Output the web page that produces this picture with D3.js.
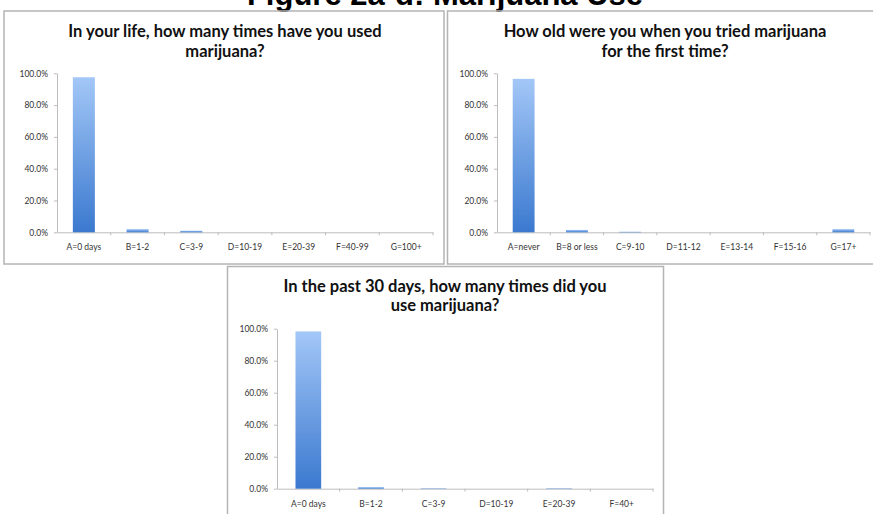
<!DOCTYPE html>
<html>
<head>
<meta charset="utf-8">
<script src="https://cdn.jsdelivr.net/npm/d3@7"></script>
<style>
  body { margin: 0; background: #fff; }
  svg { display: block; }
</style>
</head>
<body>
<script>
'use strict';

// figure title (top is cut off in the original)
let figTitle = "Figure 2a-d: Marijuana Use";

// panel 1: lifetime use
let lifeTitle = ["In your life, how many times have you used", "marijuana?"];
let lifeCats = ["A=0 days", "B=1-2", "C=3-9", "D=10-19", "E=20-39", "F=40-99", "G=100+"];
let lifeValues = [0.975, 0.02, 0.01, 0, 0, 0, 0];

// panel 2: age at first use
let ageTitle = ["How old were you when you tried marijuana", "for the first time?"];
let ageCats = ["A=never", "B=8 or less", "C=9-10", "D=11-12", "E=13-14", "F=15-16", "G=17+"];
let ageValues = [0.965, 0.015, 0.004, 0, 0, 0, 0.02];

// panel 3: past 30 days
let monthTitle = ["In the past 30 days, how many times did you", "use marijuana?"];
let monthCats = ["A=0 days", "B=1-2", "C=3-9", "D=10-19", "E=20-39", "F=40+"];
let monthValues = [0.983, 0.01, 0.003, 0, 0.003, 0];

let yTicks = [0, 0.2, 0.4, 0.6, 0.8, 1];

let width = 873, height = 514;

let svg = d3.select("body").append("svg")
  .attr("width", width)
  .attr("height", height);

// bar gradient, light on top, darker at the base
let grad = svg.append("defs").append("linearGradient")
  .attr("id", "barGrad")
  .attr("x1", 0).attr("y1", 0).attr("x2", 0).attr("y2", 1);
grad.append("stop").attr("offset", "0%").attr("stop-color", "#a3c7f7");
grad.append("stop").attr("offset", "100%").attr("stop-color", "#3b79cf");

// big title, mostly clipped at the top
svg.append("text")
  .attr("x", 445)
  .attr("y", 5)
  .attr("text-anchor", "middle")
  .style("font-family", "'Liberation Sans', Arial, sans-serif")
  .style("font-weight", "bold")
  .style("font-size", "31px")
  .text(figTitle);

// panel frames
let frames = [
  { x: 4, y: 11, w: 440, h: 253 },
  { x: 447.5, y: 11, w: 430, h: 253 },
  { x: 227.5, y: 266.5, w: 436, h: 260 }
];
svg.selectAll(".frame")
  .data(frames)
  .enter()
  .append("rect")
  .attr("class", "frame")
  .attr("x", d => d.x)
  .attr("y", d => d.y)
  .attr("width", d => d.w)
  .attr("height", d => d.h)
  .attr("fill", "none")
  .attr("stroke", "#b4b4b4")
  .attr("stroke-width", 1.5);

drawPanel({ title: lifeTitle, cats: lifeCats, values: lifeValues,
  cx: 225, titleY: 37, left: 57, right: 433, top: 73.3, bottom: 232.3 });
drawPanel({ title: ageTitle, cats: ageCats, values: ageValues,
  cx: 665, titleY: 37, left: 497, right: 870, top: 73.3, bottom: 232.3 });
drawPanel({ title: monthTitle, cats: monthCats, values: monthValues,
  cx: 445, titleY: 291.5, left: 277, right: 653, top: 328.7, bottom: 488.7 });

function drawPanel(p) {
  let g = svg.append("g");

  // two-line title
  g.selectAll(".ptitle")
    .data(p.title)
    .enter()
    .append("text")
    .attr("x", p.cx)
    .attr("y", (d, i) => p.titleY + i * 19.5)
    .attr("text-anchor", "middle")
    .style("font-family", "Lato, 'Open Sans', sans-serif")
    .style("font-weight", "bold")
    .style("font-size", "16.5px")
    .attr("fill", "#111")
    .text(d => d);

  let x = d3.scaleBand()
    .domain(p.cats)
    .range([p.left, p.right])
    .padding(0);

  let y = d3.scaleLinear()
    .domain([0, 1])
    .range([p.bottom, p.top]);

  // y axis
  let yAxis = g.append("g")
    .attr("transform", "translate(" + p.left + ",0)")
    .call(d3.axisLeft(y)
      .tickValues(yTicks)
      .tickSize(3)
      .tickSizeOuter(0)
      .tickPadding(6)
      .tickFormat(d3.format(".1%")));
  styleAxis(yAxis);

  // x axis, labels at band centres
  let xAxis = g.append("g")
    .attr("transform", "translate(0," + p.bottom + ")")
    .call(d3.axisBottom(x)
      .tickSize(0)
      .tickSizeOuter(0)
      .tickPadding(12));
  styleAxis(xAxis);

  // tick marks sit on the category boundaries
  let bounds = p.cats.map(c => x(c)).concat([x.range()[1]]);
  g.selectAll(".btick")
    .data(bounds.slice(1))
    .enter()
    .append("line")
    .attr("x1", d => d)
    .attr("x2", d => d)
    .attr("y1", p.bottom)
    .attr("y2", p.bottom + 3)
    .attr("stroke", "#bdbdbd");

  // bars
  let barW = x.bandwidth() * 0.41;
  g.selectAll(".bar")
    .data(p.values)
    .enter()
    .append("rect")
    .attr("x", (d, i) => x(p.cats[i]) + (x.bandwidth() - barW) / 2)
    .attr("y", d => y(d))
    .attr("width", barW)
    .attr("height", d => y(0) - y(d))
    .attr("fill", "url(#barGrad)");
}

function styleAxis(axis) {
  axis.select(".domain").attr("stroke", "#bdbdbd");
  axis.selectAll(".tick line").attr("stroke", "#bdbdbd");
  axis.selectAll(".tick text")
    .style("font-family", "Lato, 'Open Sans', sans-serif")
    .style("font-size", "8.5px")
    .attr("fill", "#333");
}
</script>
</body>
</html>
